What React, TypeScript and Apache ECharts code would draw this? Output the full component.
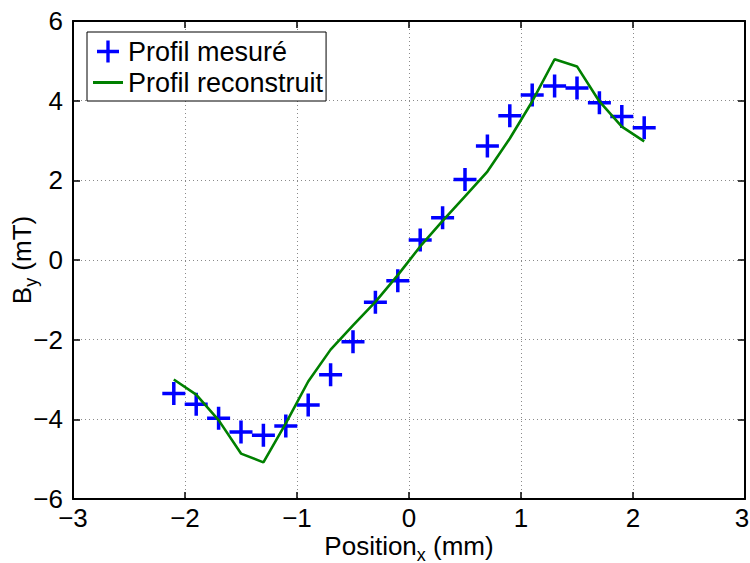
import React, { useEffect, useRef } from "react";
import * as echarts from "echarts";

const positions = [-2.1, -1.9, -1.7, -1.5, -1.3, -1.1, -0.9, -0.7, -0.5, -0.3, -0.1, 0.1, 0.3, 0.5, 0.7, 0.9, 1.1, 1.3, 1.5, 1.7, 1.9, 2.1];
const measured = [-3.35, -3.62, -3.97, -4.32, -4.4, -4.17, -3.64, -2.88, -2.05, -1.06, -0.52, 0.5, 1.06, 2.02, 2.86, 3.62, 4.14, 4.37, 4.32, 3.95, 3.6, 3.32];
const reconstructed = [-3.0, -3.38, -4.02, -4.86, -5.08, -4.1, -3.05, -2.25, -1.64, -1.05, -0.38, 0.34, 0.98, 1.6, 2.22, 3.05, 3.98, 5.04, 4.86, 3.98, 3.35, 2.98];
const xTicks = { min: -3, max: 3, interval: 1 };
const yTicks = { min: -6, max: 6, interval: 2 };
const seriesNames = ["Profil mesuré", "Profil reconstruit"];

const FONT = "'Liberation Sans', Arial, Helvetica, sans-serif";
const PLUS = "path://M0,9.75 H9.75 V0 H13.25 V9.75 H23 V13.25 H13.25 V23 H9.75 V13.25 H0 Z";
const LINEICON = "path://M0,0 H30 V3 H0 Z";
const FS = 26;

const fmt = (v: number) => String(v).replace("-", "\u2212");
const fmtX = (v: number) => (v === xTicks.max ? "{r|" + fmt(v) + "}" : fmt(v));

export default function App() {
  const ref = useRef<HTMLDivElement>(null);
  useEffect(() => {
    if (!ref.current) return;
    const chart = echarts.init(ref.current, undefined, { renderer: "svg" });
    const splitLine = { show: true, lineStyle: { color: "#8a8a8a", width: 1, type: [1, 3] as any } };
    const axisLine = { show: true, onZero: false, lineStyle: { color: "#000", width: 2 } };
    const axisTick = { show: true, inside: true, length: 7, lineStyle: { color: "#000", width: 1.5 } };
    const rich = {
      n: { fontSize: FS, lineHeight: 28, color: "#000", fontFamily: FONT },
      s: { fontSize: 18, lineHeight: 18, padding: [17, 0, 0, 0], color: "#000", fontFamily: FONT },
    };
    chart.setOption({
      animation: false,
      backgroundColor: "#fff",
      textStyle: { fontFamily: FONT },
      grid: { left: 73, right: 5, top: 21, bottom: 64, containLabel: false, outerBoundsMode: "none" },
      legend: {
        orient: "vertical",
        left: 87,
        top: 32,
        itemWidth: 30,
        itemHeight: 22,
        itemGap: 4,
        padding: [6, 3, 5, 6],
        borderColor: "#000",
        borderWidth: 1,
        backgroundColor: "#fff",
        textStyle: { fontSize: 27, color: "#000", fontFamily: FONT },
        data: [
          { name: seriesNames[0], icon: PLUS },
          { name: seriesNames[1], icon: LINEICON },
        ],
      },
      xAxis: [
        {
          type: "value",
          ...xTicks,
          position: "bottom",
          axisLine,
          axisTick,
          splitLine,
          axisLabel: {
            fontSize: FS,
            lineHeight: 18,
            color: "#000",
            margin: 10,
            formatter: fmtX,
            fontFamily: FONT,
            rich: { r: { fontSize: FS, lineHeight: 18, color: "#000", fontFamily: FONT, padding: [0, 6, 0, 0] } },
          },
          name: "{n|Position}{s|x}{n| (mm)}",
          nameLocation: "middle",
          nameMoveOverlap: false,
          nameGap: 33,
          nameTextStyle: { color: "#000", fontFamily: FONT, rich },
        },
        {
          type: "value",
          ...xTicks,
          position: "top",
          axisLine,
          axisTick,
          splitLine: { show: false },
          axisLabel: { show: false },
        },
      ],
      yAxis: [
        {
          type: "value",
          ...yTicks,
          position: "left",
          axisLine,
          axisTick,
          splitLine,
          axisLabel: { fontSize: FS, color: "#000", margin: 10, formatter: fmt, fontFamily: FONT },
          name: "{n|B}{s|y}{n| (mT)}",
          nameLocation: "middle",
          nameMoveOverlap: false,
          nameRotate: 90,
          nameGap: 37,
          nameTextStyle: { color: "#000", fontFamily: FONT, rich },
        },
        {
          type: "value",
          ...yTicks,
          position: "right",
          axisLine,
          axisTick,
          splitLine: { show: false },
          axisLabel: { show: false },
        },
      ],
      series: [
        {
          name: seriesNames[0],
          type: "scatter",
          xAxisIndex: 0,
          yAxisIndex: 0,
          symbol: PLUS,
          symbolSize: 23,
          itemStyle: { color: "#0000ff", opacity: 1 },
          data: positions.map((x, i) => [x, measured[i]]),
          z: 2,
        },
        {
          name: seriesNames[1],
          type: "line",
          xAxisIndex: 0,
          yAxisIndex: 0,
          showSymbol: false,
          symbol: "none",
          color: "#008000",
          itemStyle: { color: "#008000" },
          lineStyle: { color: "#008000", width: 2.6 },
          data: positions.map((x, i) => [x, reconstructed[i]]),
          z: 3,
        },
      ],
    });
    return () => chart.dispose();
  }, []);
  return <div ref={ref} style={{ position: "absolute", left: 0, top: 0, width: 750, height: 563 }} />;
}
